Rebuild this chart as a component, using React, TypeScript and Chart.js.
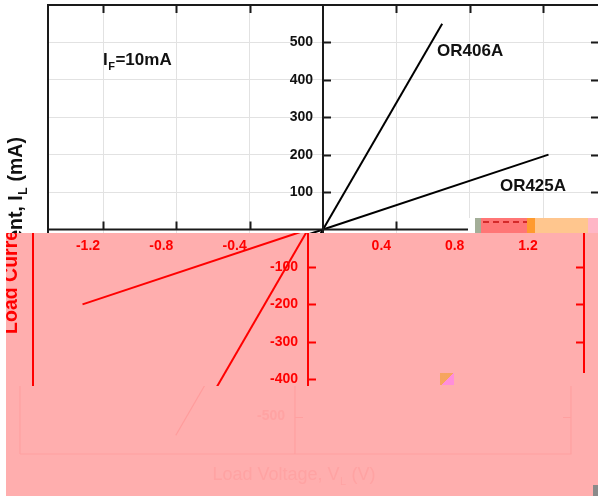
import React, { useEffect, useRef } from 'react';
import { Chart, registerables } from 'chart.js';

Chart.register(...registerables);

// ---------- data ----------
const seriesNames = ['OR406A', 'OR425A'];
const or406aVoltage = [-0.65, 0, 0.65];
const or406aCurrent = [-550, 0, 550];
const or425aVoltage = [-1.23, 0, 1.23];
const or425aCurrent = [-200, 0, 200];
const xTickValues = [-1.2, -0.8, -0.4, 0.4, 0.8, 1.2];
const yTickValues = [-500, -400, -300, -200, -100, 100, 200, 300, 400, 500];
const xRange = [-1.5, 1.5];
const yRange = [-600, 600];
const conditionText = ['I', 'F', '=10mA'];
const xTitleText = ['Load Voltage, V', 'L', ' (V)'];
const yTitleText = ['Load Current, I', 'L', ' (mA)'];

const FONT = '"Liberation Sans", Arial, Helvetica, sans-serif';

type Theme = {
  line: string;
  text: string;
  grid: string;
  frame: string;
  lineWidth: number;
  frameWidth: number;
  yTitleX: number;
};

const THEMES: Record<string, Theme> = {
  base: { line: '#000000', text: '#111111', grid: '#e2e2e2', frame: '#1a1a1a', lineWidth: 2, frameWidth: 2, yTitleX: 22 },
  red: { line: '#ff0000', text: '#ff0000', grid: 'rgba(0,0,0,0)', frame: '#ff0000', lineWidth: 2, frameWidth: 2, yTitleX: 32 },
  faint: { line: '#ff9c9c', text: '#ffa3a3', grid: 'rgba(0,0,0,0)', frame: '#ffa0a0', lineWidth: 1.2, frameWidth: 1.2, yTitleX: 22 },
};

function drawSubText(
  ctx: CanvasRenderingContext2D,
  parts: string[],
  x: number,
  y: number,
  size: number,
  color: string,
  align: 'left' | 'center',
  weight = 'bold'
) {
  const main = `${weight} ${size}px ${FONT}`;
  const sub = `${weight} ${Math.round(size * 0.62)}px ${FONT}`;
  ctx.font = main;
  const w0 = ctx.measureText(parts[0]).width;
  const w2 = ctx.measureText(parts[2]).width;
  ctx.font = sub;
  const w1 = ctx.measureText(parts[1]).width;
  const total = w0 + w1 + w2;
  const sx = align === 'center' ? x - total / 2 : x;
  ctx.fillStyle = color;
  ctx.textAlign = 'left';
  ctx.textBaseline = 'alphabetic';
  ctx.font = main;
  ctx.fillText(parts[0], sx, y);
  ctx.font = sub;
  ctx.fillText(parts[1], sx + w0 + 0.5, y + size * 0.28);
  ctx.font = main;
  ctx.fillText(parts[2], sx + w0 + w1 + 1, y);
}

function makeDecorPlugin(theme: Theme) {
  return {
    id: 'decor',
    afterDraw(chart: any) {
      const { ctx, chartArea: a } = chart;
      const xs = chart.scales.x;
      const ys = chart.scales.y;
      const x0 = xs.getPixelForValue(0);
      const y0 = ys.getPixelForValue(0);
      const right = a.right + 1;
      const tick = 8;
      ctx.save();
      ctx.strokeStyle = theme.frame;
      ctx.lineWidth = theme.frameWidth;
      ctx.lineCap = 'butt';
      // frame
      ctx.beginPath();
      ctx.moveTo(a.left, a.bottom);
      ctx.lineTo(a.left, a.top);
      ctx.lineTo(right, a.top);
      ctx.lineTo(right, a.bottom);
      ctx.lineTo(a.left, a.bottom);
      ctx.stroke();
      // axes through origin
      ctx.beginPath();
      ctx.moveTo(a.left, y0);
      ctx.lineTo(right, y0);
      ctx.moveTo(x0, a.top);
      ctx.lineTo(x0, a.bottom);
      ctx.stroke();
      // inward ticks
      ctx.beginPath();
      xTickValues.forEach((v) => {
        const px = Math.round(xs.getPixelForValue(v)) + 0.5;
        ctx.moveTo(px, a.top);
        ctx.lineTo(px, a.top + tick);
        ctx.moveTo(px, y0);
        ctx.lineTo(px, y0 - tick);
      });
      yTickValues.forEach((v) => {
        const py = Math.round(ys.getPixelForValue(v)) + 0.5;
        ctx.moveTo(right, py);
        ctx.lineTo(right - tick, py);
        ctx.moveTo(x0, py);
        ctx.lineTo(x0 + tick, py);
      });
      ctx.stroke();

      // tick labels
      ctx.fillStyle = theme.text;
      ctx.font = `bold 14px ${FONT}`;
      ctx.textAlign = 'center';
      ctx.textBaseline = 'middle';
      xTickValues.forEach((v) => {
        ctx.fillText(v.toFixed(1), xs.getPixelForValue(v), y0 + 17);
      });
      ctx.textAlign = 'right';
      yTickValues.forEach((v) => {
        ctx.fillText(String(v), x0 - 10, ys.getPixelForValue(v));
      });

      // annotations
      drawSubText(ctx, conditionText, xs.getPixelForValue(-1.2), ys.getPixelForValue(440), 17, theme.text, 'left');
      ctx.fillStyle = theme.text;
      ctx.font = `bold 17px ${FONT}`;
      ctx.textAlign = 'left';
      ctx.textBaseline = 'alphabetic';
      ctx.fillText(seriesNames[0], xs.getPixelForValue(0.622), ys.getPixelForValue(463));
      ctx.fillText(seriesNames[1], xs.getPixelForValue(0.965), ys.getPixelForValue(103));

      // axis titles
      drawSubText(ctx, xTitleText, x0 - 1.5, 480, 18, theme.text, 'center', 'normal');
      ctx.save();
      ctx.translate(theme.yTitleX, 236);
      ctx.rotate(-Math.PI / 2);
      drawSubText(ctx, yTitleText, 0, 0, 19.5, theme.text, 'center');
      ctx.restore();

      ctx.restore();
    },
  };
}

const CANVAS_W = 620;
const CANVAS_H = 496;

function ChartLayer({ theme, style }: { theme: Theme; style: React.CSSProperties }) {
  const ref = useRef<HTMLCanvasElement | null>(null);
  useEffect(() => {
    if (!ref.current) return;
    Chart.defaults.font.family = FONT;
    const mk = (xs: number[], ys: number[], label: string) => ({
      label,
      data: xs.map((v, i) => ({ x: v, y: ys[i] })),
      showLine: true,
      borderColor: theme.line,
      backgroundColor: theme.line,
      borderWidth: theme.lineWidth,
      pointRadius: 0,
      fill: false,
    });
    const chart = new Chart(ref.current, {
      type: 'scatter',
      data: {
        datasets: [
          mk(or406aVoltage, or406aCurrent, seriesNames[0]),
          mk(or425aVoltage, or425aCurrent, seriesNames[1]),
        ],
      },
      options: {
        responsive: false,
        animation: false,
        devicePixelRatio: 1,
        layout: { padding: { left: 48, top: 5, right: CANVAS_W - 598, bottom: 42 } },
        plugins: { legend: { display: false }, tooltip: { enabled: false } },
        scales: {
          x: {
            type: 'linear',
            min: xRange[0],
            max: xRange[1],
            position: { y: 0 } as any,
            afterBuildTicks: (s: any) => {
              s.ticks = xTickValues.map((value) => ({ value }));
            },
            ticks: { display: false },
            grid: { color: theme.grid, lineWidth: 1, drawTicks: false },
            border: { display: false },
          },
          y: {
            type: 'linear',
            min: yRange[0],
            max: yRange[1],
            position: { x: 0 } as any,
            afterBuildTicks: (s: any) => {
              s.ticks = yTickValues.map((value) => ({ value }));
            },
            ticks: { display: false },
            grid: { color: theme.grid, lineWidth: 1, drawTicks: false },
            border: { display: false },
          },
        },
      },
      plugins: [makeDecorPlugin(theme)],
    } as any);
    return () => chart.destroy();
  }, [theme]);
  return <canvas ref={ref} width={CANVAS_W} height={CANVAS_H} style={{ display: 'block', ...style }} />;
}

export default function App() {
  return (
    <div style={{ position: 'absolute', left: 0, top: 0, width: 598, height: 496, overflow: 'hidden', background: '#ffffff' }}>
      <ChartLayer theme={THEMES.base} style={{ position: 'absolute', left: 0, top: 0 }} />
      {/* glitch strip */}
      <div
        style={{
          position: 'absolute',
          left: 468,
          top: 218,
          width: 130,
          height: 15,
          background:
            'linear-gradient(to right, #ffffff 0 7px, #a3ae98 7px 13px, #ff7676 13px 59px, #ff9a2e 59px 67px, #ffc68e 67px 120px, #ffb6c6 120px 130px)',
        }}
      />
      <div
        style={{
          position: 'absolute',
          left: 483,
          top: 221,
          width: 44,
          height: 2,
          background: 'repeating-linear-gradient(to right, #d42a2a 0 6px, transparent 6px 10px)',
        }}
      />
      <div style={{ position: 'absolute', left: 6, top: 233, width: 592, height: 263, background: '#ffaeae', overflow: 'hidden' }}>
        <div style={{ position: 'absolute', left: 0, top: 0, width: 592, height: 153, overflow: 'hidden' }}>
          <ChartLayer theme={THEMES.red} style={{ position: 'absolute', left: -21, top: -233 }} />
        </div>
        <div style={{ position: 'absolute', left: 0, top: 153, width: 592, height: 110, overflow: 'hidden' }}>
          <ChartLayer theme={THEMES.faint} style={{ position: 'absolute', left: -34, top: -386 }} />
        </div>
        <div style={{ position: 'absolute', left: 566, top: 140, width: 18, height: 13, background: '#ffaeae' }} />
        <div
          style={{
            position: 'absolute',
            left: 434,
            top: 140,
            width: 14,
            height: 12,
            background: 'linear-gradient(135deg, #f4a24a 0 50%, #ff86e6 50% 100%)',
            opacity: 0.8,
          }}
        />
        <div style={{ position: 'absolute', left: 587, top: 252, width: 5, height: 11, background: '#8a8a8a' }} />
      </div>
    </div>
  );
}
